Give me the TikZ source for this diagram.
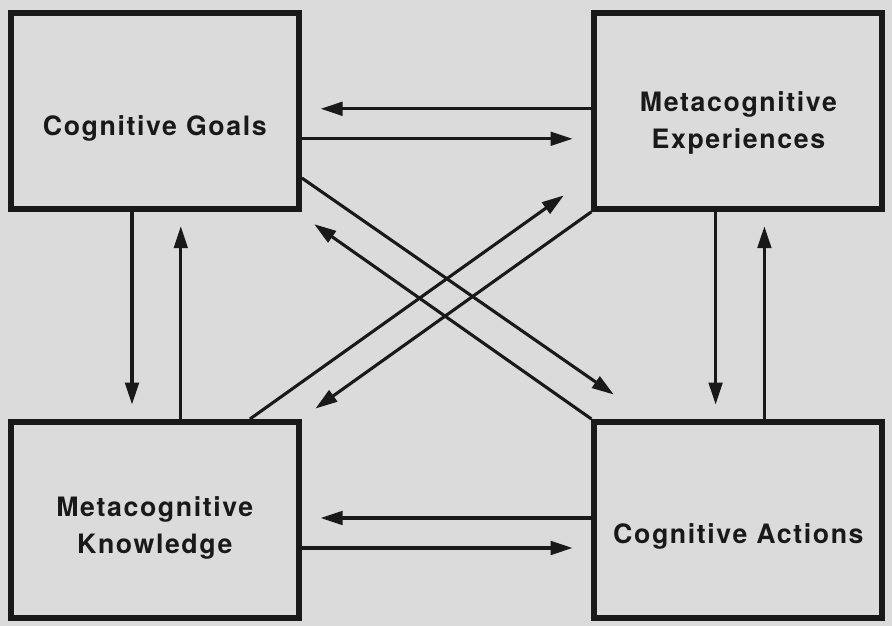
\documentclass[tikz,border=0pt]{standalone}
\usepackage{fontspec}
\setmainfont{TeX Gyre Heros}[LetterSpace=6]
\usetikzlibrary{arrows.meta,positioning,calc}

\definecolor{paper}{gray}{0.86}
\definecolor{ink}{gray}{0.1}

\begin{document}
\begin{tikzpicture}[
    stage/.style={draw=ink, rectangle, line width=4.3pt, minimum width=7.2cm, minimum height=4.9cm},
    caption/.style={align=center, text=ink, font=\fontsize{19}{26}\selectfont\bfseries},
    line/.style={draw=ink, line width=2.2pt, -{Triangle[length=5.5mm,width=3.4mm]}},
    vline/.style={line, shorten >=0.36cm},
    hline/.style={line, shorten >=0.47cm}
]

\fill[paper] (0,0) rectangle (22.3,15.65);
\useasboundingbox (0,0) rectangle (22.3,15.65);

\node[stage] (goals) at (3.87, 12.88) {};
\node[caption] (goalstext) at ([yshift=-0.45cm]goals.center) {Cognitive Goals};

\node[stage] (experiences) at (18.46, 12.88) {};
\node[caption] (experiencestext) at ([yshift=-0.3cm]experiences.center) {Metacognitive\\Experiences};

\node[stage] (knowledge) at (3.87, 2.65) {};
\node[caption] (knowledgetext) at ([yshift=-0.2cm]knowledge.center) {Metacognitive\\Knowledge};

\node[stage] (actions) at (18.46, 2.65) {};
\node[caption] (actionstext) at ([yshift=-0.4cm]actions.center) {Cognitive Actions};

\draw[hline] ([yshift=0.05cm]experiences.west) -- ([yshift=0.05cm]goals.east);
\draw[hline] ([yshift=-0.7cm]goals.east) -- ([yshift=-0.7cm]experiences.west);
\draw[hline] ([yshift=0.05cm]actions.west) -- ([yshift=0.05cm]knowledge.east);
\draw[hline] ([yshift=-0.7cm]knowledge.east) -- ([yshift=-0.7cm]actions.west);

\draw[vline] ([xshift=-0.57cm]goals.south) -- ([xshift=-0.57cm]knowledge.north);
\draw[vline] ([xshift=0.65cm]knowledge.north) -- ([xshift=0.65cm]goals.south);
\draw[vline] ([xshift=-0.57cm]experiences.south) -- ([xshift=-0.57cm]actions.north);
\draw[vline] ([xshift=0.65cm]actions.north) -- ([xshift=0.65cm]experiences.south);

\draw[line] ([yshift=-1.68cm]goals.east) -- ([shift={(0.56,0.61)}]actions.north west);
\draw[line] (actions.north west) -- ([shift={(0.31,-0.31)}]goals.south east);
\draw[line] ([xshift=2.38cm]knowledge.north) -- ([shift={(-0.69,0.41)}]experiences.south west);
\draw[line] (experiences.south west) -- ([shift={(0.34,0.26)}]knowledge.north east);

\end{tikzpicture}
\end{document}
